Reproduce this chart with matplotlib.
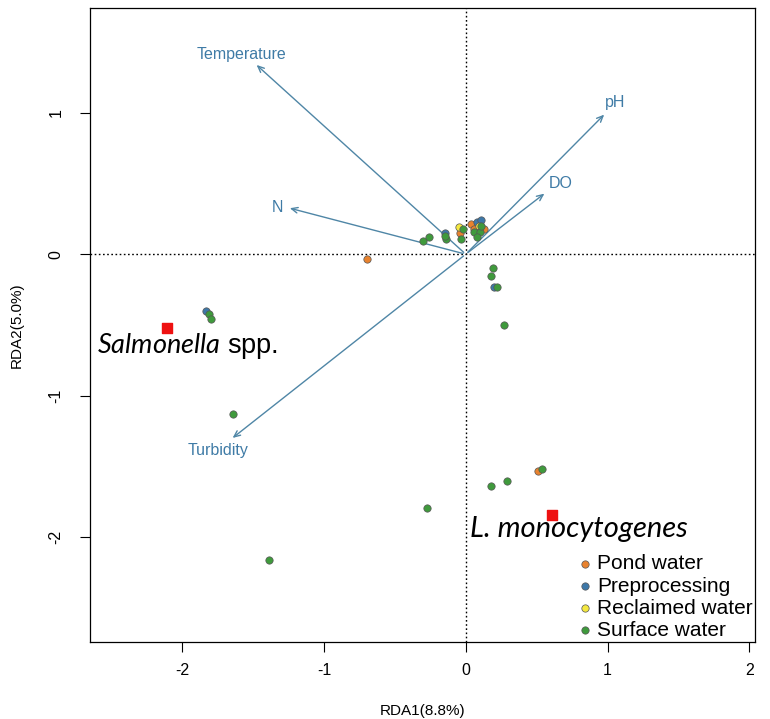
import matplotlib
matplotlib.use("Agg")
import matplotlib.pyplot as plt

plt.rcParams['font.family'] = ['Liberation Sans', 'DejaVu Sans']
plt.rcParams['mathtext.fontset'] = 'custom'
plt.rcParams['mathtext.rm'] = 'Lato'
plt.rcParams['mathtext.it'] = 'Lato:italic'

# Site scores
pond_x = [-0.04, 0.04, 0.06, 0.13, -0.70, 0.51]
pond_y = [0.15, 0.21, 0.18, 0.18, -0.035, -1.53]
pre_x = [-0.15, 0.08, 0.11, -1.83, 0.20]
pre_y = [0.15, 0.23, 0.24, -0.40, -0.23]
rec_x = [-0.05, 0.09]
rec_y = [0.19, 0.20]
surf_x = [-0.30, -0.26, -0.14, -0.15, -0.035, -0.02, 0.06, 0.10, 0.08, 0.11,
          -1.81, -1.80, -1.64, -1.39, -0.27, 0.19, 0.18, 0.22, 0.27, 0.18, 0.29, 0.54]
surf_y = [0.09, 0.12, 0.11, 0.13, 0.11, 0.18, 0.16, 0.16, 0.12, 0.20,
          -0.42, -0.46, -1.13, -2.16, -1.79, -0.10, -0.155, -0.23, -0.50, -1.64, -1.60, -1.52]

# Environmental vectors
env_names = ['Temperature', 'pH', 'DO', 'N', 'Turbidity']
env_x = [-1.49, 0.99, 0.57, -1.26, -1.66]
env_y = [1.35, 1.00, 0.44, 0.33, -1.31]
env_lab_x = [-1.58, 1.05, 0.67, -1.33, -1.75]
env_lab_y = [1.41, 1.07, 0.50, 0.33, -1.39]

# Species
species = ['Salmonella', 'L. monocytogenes']
sp_x = [-2.11, 0.61]
sp_y = [-0.52, -1.84]

groups = ['Pond water', 'Preprocessing', 'Reclaimed water', 'Surface water']
colors = ['#E8822E', '#3D78A8', '#F4E840', '#3F9A3C']

fig = plt.figure(figsize=(7.70, 7.19), dpi=100)
ax = fig.add_axes([0.117, 0.107, 0.8635, 0.882])

ax.axhline(0, color='black', linestyle=(0, (1.2, 1.8)), linewidth=1.0, zorder=1)
ax.axvline(0, color='black', linestyle=(0, (1.2, 1.8)), linewidth=1.0, zorder=1)

arrow_col = '#4F86A6'
text_col = '#3F7BA6'
for n, x, y, lx, ly in zip(env_names, env_x, env_y, env_lab_x, env_lab_y):
    ax.annotate('', xy=(x, y), xytext=(0, 0),
                arrowprops=dict(arrowstyle='->,head_length=0.45,head_width=0.2',
                                color=arrow_col, lw=1.0), zorder=2)
    ax.text(lx, ly, n, color=text_col, fontsize=11.5, ha='center', va='center', zorder=3)

for xs, ys, c, g in zip([pond_x, pre_x, rec_x, surf_x], [pond_y, pre_y, rec_y, surf_y], colors, groups):
    ax.scatter(xs, ys, s=28, c=c, edgecolors='#555555', linewidths=0.5, zorder=4, label=g)

ax.scatter(sp_x, sp_y, marker='s', s=50, c='#EE1111', zorder=5)
ax.text(-2.60, -0.65, r'$\mathit{Salmonella}$ spp.', fontsize=19.5, ha='left', va='center', zorder=6)
ax.text(0.03, -1.94, 'L. monocytogenes', fontsize=21, family='Lato', style='italic',
        ha='left', va='center', zorder=6)

leg = ax.legend(loc='lower left', bbox_to_anchor=(0.722, -0.003),
                frameon=False, fontsize=15, handletextpad=0.1,
                labelspacing=0.15, borderaxespad=0.0, borderpad=0.2, markerscale=1.0,
                handlelength=1.0)

ax.set_xlim(-2.65, 2.04)
ax.set_ylim(-2.74, 1.74)
ax.set_xticks([-2, -1, 0, 1, 2])
ax.set_yticks([-2, -1, 0, 1])
ax.set_xticklabels(['-2', '-1', '0', '1', '2'])
ax.set_yticklabels(['-2', '-1', '0', '1'], rotation=90, va='center')
ax.tick_params(direction='out', length=7, width=0.8, labelsize=11.5)
ax.tick_params(axis='x', pad=8)
ax.tick_params(axis='y', pad=12)
for sp in ax.spines.values():
    sp.set_linewidth(0.9)
ax.set_xlabel('RDA1(8.8%)', fontsize=11, labelpad=19)
ax.set_ylabel('RDA2(5.0%)', fontsize=11, labelpad=18)

fig.savefig('out.png', dpi=100)
